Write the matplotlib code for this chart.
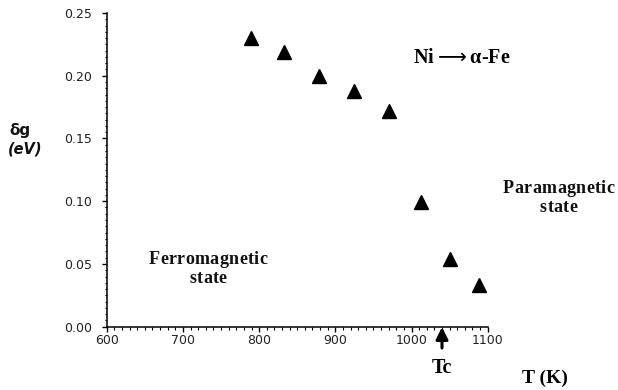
import matplotlib
matplotlib.use("Agg")
import matplotlib.pyplot as plt
from matplotlib.ticker import MultipleLocator, FormatStrFormatter
from matplotlib.offsetbox import TextArea, HPacker, VPacker, AnnotationBbox

temperature_K = [789, 833, 879, 924, 970, 1012, 1051, 1088]
delta_g_eV = [0.230, 0.219, 0.200, 0.188, 0.172, 0.099, 0.054, 0.033]
x_ticks = [600, 700, 800, 900, 1000, 1100]
y_ticks = [0.00, 0.05, 0.10, 0.15, 0.20, 0.25]
Tc = 1040

fig = plt.figure(figsize=(6.18, 3.90), dpi=100)
ax = fig.add_axes([0.1727, 0.1623, 0.6165, 0.8044])

ax.plot(temperature_K, delta_g_eV, linestyle="none", marker="^", color="black", markersize=10)

ax.set_xlim(600, 1100)
ax.set_ylim(0, 0.25)
ax.set_xticks(x_ticks)
ax.set_yticks(y_ticks)
ax.xaxis.set_minor_locator(MultipleLocator(10))
ax.yaxis.set_minor_locator(MultipleLocator(0.005))
ax.yaxis.set_major_formatter(FormatStrFormatter("%.2f"))
for s in ["top", "right"]:
    ax.spines[s].set_visible(False)
for s in ["left", "bottom"]:
    ax.spines[s].set_linewidth(1.1)
ax.tick_params(which="major", direction="out", length=3.5, width=1, labelsize=9, labelcolor="#222222")
ax.tick_params(axis="y", which="major", pad=7)
ax.tick_params(axis="x", which="major", pad=2)
ax.tick_params(which="minor", direction="out", length=1.8, width=0.8)

serif = ["Liberation Serif", "DejaVu Serif"]


def tracked(lines, xy, size, sep):
    rows = []
    for line in lines:
        chars = [TextArea(c, textprops=dict(fontfamily=serif, fontweight="bold", fontsize=size, color="#111111"))
                 for c in line]
        rows.append(HPacker(children=chars, align="baseline", pad=0, sep=sep))
    box = VPacker(children=rows, align="center", pad=0, sep=2)
    ab = AnnotationBbox(box, xy, xycoords="figure fraction", frameon=False, box_alignment=(0.5, 0.5))
    fig.add_artist(ab)


tracked(["Paramagnetic", "state"], (558.7 / 618, 1 - 198 / 390), 13, 0.3)
tracked(["Ferromagnetic", "state"], (208 / 618, 1 - 269 / 390), 13, 0.3)

fig.text(462 / 618, 1 - 58 / 390, r"Ni$\longrightarrow$α-Fe", fontfamily=serif, fontweight="bold",
         fontsize=14.5, ha="center", va="center")
fig.text(19.5 / 618, 1 - 131 / 390, "δg", fontfamily="DejaVu Sans", fontweight="bold", fontsize=11,
         ha="center", va="center", color="#111111")
fig.text(25 / 618, 1 - 149.5 / 390, "(eV)", fontfamily="DejaVu Sans", fontweight="bold", fontstyle="italic",
         fontsize=10.5, ha="center", va="center", color="#111111")
fig.text(545 / 618, 1 - 378 / 390, "T (K)", fontfamily=serif, fontweight="bold", fontsize=14,
         ha="center", va="center")
fig.text(441.5 / 618, 1 - 368 / 390, "Tc", fontfamily=serif, fontweight="bold", fontsize=14.5,
         ha="center", va="center")
ax.annotate("", xy=(Tc, -0.0003), xytext=(Tc, -0.017), xycoords="data", textcoords="data",
            annotation_clip=False,
            arrowprops=dict(arrowstyle="-|>,head_length=0.6,head_width=0.3", color="black", lw=2.2,
                            mutation_scale=12, shrinkA=0, shrinkB=0))

fig.savefig("out.png", dpi=100, facecolor="white")
